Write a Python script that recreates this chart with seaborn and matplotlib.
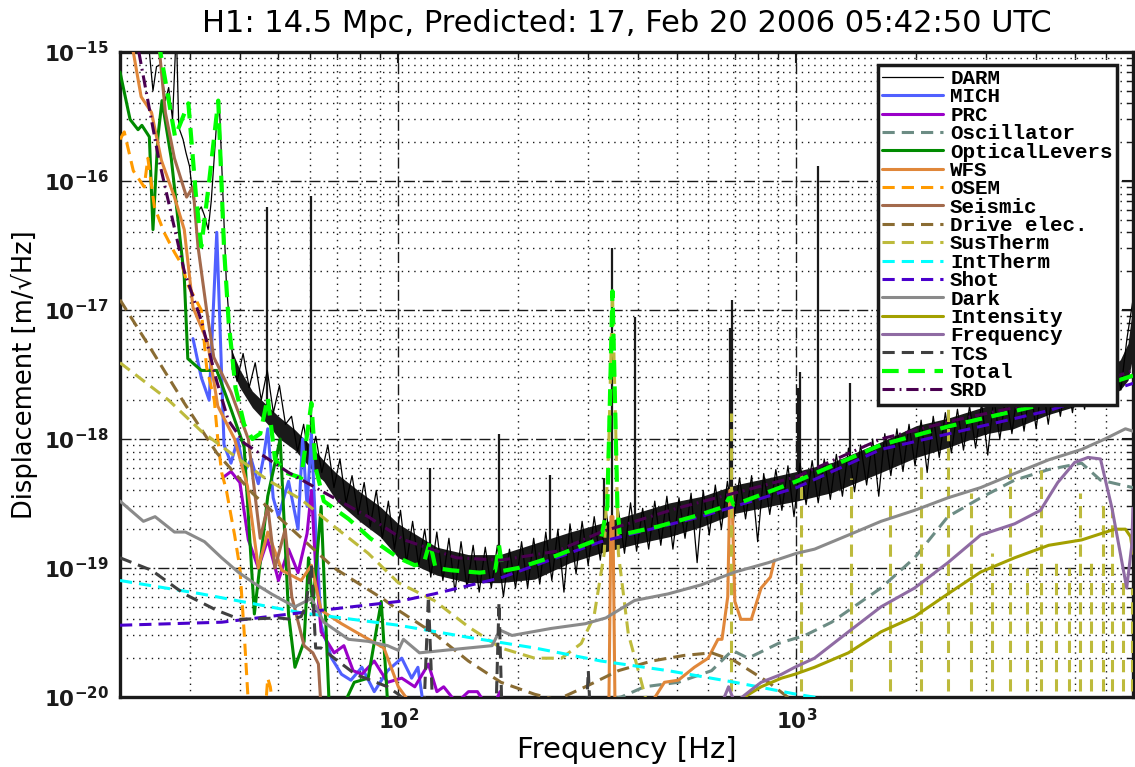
import numpy as np
import pandas as pd
import matplotlib
matplotlib.use("Agg")
import matplotlib.pyplot as plt
import seaborn as sns
from matplotlib.ticker import FixedLocator, FuncFormatter, NullFormatter

# ---------------- data ----------------
TITLE = "H1: 14.5 Mpc, Predicted: 17, Feb 20 2006 05:42:50 UTC"

# DARM: low-frequency part of the trace
darm_f = [20, 22, 23.7, 24.2, 24.7, 25.3, 26.0, 26.5, 27.1, 27.7, 28.1, 28.8, 29.3, 29.9,
          30.5, 31.1, 32.0, 32.6, 33.3, 33.9, 34.9, 35.5, 36.3, 37.0]
darm_v = [3e-15, 2e-15, 1e-15, 5e-16, 7.7e-16, 8e-16, 4.2e-16, 5.3e-16, 3e-16, 1.5e-15, 2.6e-16,
          2.1e-16, 1.65e-16, 1.3e-16, 7.5e-17, 5.6e-17, 6.3e-17, 5.4e-17, 4.2e-17, 7e-17, 2.6e-16,
          4.2e-16, 7.1e-17, 1.6e-17]
# DARM: noisy part, 38 Hz .. 7 kHz on an even log grid (values read as band extremes)
darm_noise_v = [
    5.5e-18, 2.8e-18, 4.6e-18, 2.5e-18, 3.9e-18, 2.0e-18, 3.4e-18, 1.6e-18, 2.6e-18, 1.3e-18,
    1.5e-18, 8e-19, 1.3e-18, 6.5e-19, 1.05e-18, 5.5e-19, 9e-19, 4.2e-19, 7e-19, 3.2e-19,
    5.2e-19, 2.6e-19, 4.6e-19, 2.1e-19, 4e-19, 1.7e-19, 3.3e-19, 1.4e-19, 2.8e-19, 1.1e-19,
    2.3e-19, 1.05e-19, 2e-19, 8.5e-20, 1.9e-19, 8e-20, 1.7e-19, 6.5e-20, 1.6e-19, 7e-20,
    1.5e-19, 6.5e-20, 1.45e-19, 7e-20, 1.5e-19, 6e-20, 1.4e-19, 7e-20, 1.6e-19, 7e-20,
    1.7e-19, 7.5e-20, 1.9e-19, 8e-20, 2e-19, 6.5e-20, 2.2e-19, 9e-20, 2.3e-19, 1.05e-19,
    2.5e-19, 1.15e-19, 2.7e-19, 1.2e-19, 2.8e-19, 1.3e-19, 3.2e-19, 1.35e-19, 2.9e-19, 1.4e-19,
    3.3e-19, 1.5e-19, 3.6e-19, 1.4e-19, 3.5e-19, 1.7e-19, 3.8e-19, 1.1e-19, 4e-19, 1.8e-19,
    4.4e-19, 2e-19, 4.7e-19, 2.3e-19, 5e-19, 2.4e-19, 5.2e-19, 1.6e-19, 5.4e-19, 2.6e-19,
    5.8e-19, 2.8e-19, 6.2e-19, 2.5e-19, 6.5e-19, 3.1e-19, 6.8e-19, 3.2e-19, 7e-19, 3.4e-19,
    7.6e-19, 3.6e-19, 8.5e-19, 3.9e-19, 9e-19, 4.4e-19, 1e-18, 3.6e-19, 1.1e-18, 5.2e-19,
    1.2e-18, 5.6e-19, 1.3e-18, 6.2e-19, 1.4e-18, 5.5e-19, 1.5e-18, 7.2e-19, 1.6e-18, 7.8e-19,
    1.7e-18, 8.2e-19, 1.8e-18, 8.5e-19, 1.9e-18, 7.5e-19, 2.1e-18, 1e-18, 2.2e-18, 1.1e-18,
    2.5e-18, 1.15e-18, 2.6e-18, 1.2e-18, 2.8e-18, 1.3e-18, 2.9e-18, 1.5e-18, 3.1e-18, 1.6e-18,
    3.3e-18, 1.7e-18, 3.5e-18, 1.8e-18, 3.7e-18, 2e-18, 4.2e-18, 2.4e-18, 6e-18, 1.2e-17]
darm_noise_f = np.geomspace(38, 7000, len(darm_noise_v))
# DARM: dense body of the noise band
band_f = [38, 40, 43, 47, 50, 55, 60, 65, 70, 80, 90, 100, 125, 150, 180, 220, 270, 320, 400,
          480, 580, 700, 850, 1000, 1230, 1630, 2000, 2400, 3000, 3500, 4300, 5200, 6000, 6500,
          6800, 7000]
band_lo = [3.5e-18, 2.5e-18, 1.75e-18, 1.3e-18, 1.02e-18, 8.2e-19, 6e-19, 4.7e-19, 3.3e-19,
           2.3e-19, 1.75e-19, 1.2e-19, 8.8e-20, 7.7e-20, 7.7e-20, 8.2e-20, 1.1e-19, 1.3e-19,
           1.55e-19, 1.75e-19, 2.1e-19, 2.65e-19, 3e-19, 3.3e-19, 3.85e-19, 5.5e-19, 7.2e-19,
           8.6e-19, 1.1e-18, 1.2e-18, 1.55e-18, 1.85e-18, 2.1e-18, 2.4e-18, 2.85e-18, 4.4e-18]
band_hi = [5e-18, 3.45e-18, 2.35e-18, 1.8e-18, 1.5e-18, 1.18e-18, 9e-19, 6.8e-19, 5.4e-19,
           3.9e-19, 3e-19, 2.2e-19, 1.45e-19, 1.27e-19, 1.27e-19, 1.55e-19, 1.9e-19, 2.2e-19,
           2.7e-19, 3.2e-19, 3.6e-19, 4.4e-19, 5e-19, 5.6e-19, 6.6e-19, 9.5e-19, 1.27e-18,
           1.45e-18, 1.8e-18, 2.2e-18, 2.65e-18, 3.1e-18, 3.45e-18, 4.1e-18, 5.5e-18, 1.1e-17]
# DARM: narrow lines
line_f = [46.7, 60.5, 120, 179, 240, 329, 345, 392, 680, 687, 1010, 1020, 1130, 1360]
line_top = [6.3e-17, 7.6e-17, 6e-19, 1.1e-18, 5.3e-19, 5e-19, 3e-17, 8.9e-18, 7.3e-18, 1.2e-17,
            2.5e-18, 3.3e-18, 1.3e-16, 2.7e-18]
line_base = [1.6e-18, 7.5e-19, 1.2e-19, 1e-19, 1.1e-19, 1.7e-19, 1.8e-19, 2e-19, 3.5e-19,
             3.5e-19, 4.5e-19, 4.5e-19, 5e-19, 5.5e-19]

mich_f = [30.5, 32, 33.5, 35, 36.5, 38, 39.5, 41, 42.7, 44.5, 45.8, 47, 48.5, 50, 53, 56, 57.5,
          59, 60.5, 62, 64, 68, 72, 76, 81, 87, 94, 102, 108, 112, 116]
mich_v = [6e-18, 3e-18, 2e-18, 4e-17, 9e-19, 6.5e-19, 1e-18, 5.5e-19, 7e-19, 4.5e-19, 7e-19,
          1.2e-18, 3.5e-19, 2.5e-19, 4.7e-19, 2e-19, 1e-18, 3e-19, 1.1e-18, 2e-19, 3.6e-20, 2e-20,
          1.5e-20, 1.35e-20, 1.7e-20, 1.1e-20, 1.6e-20, 2e-20, 1.4e-20, 1.7e-20, 8e-21]

prc_f = [36.5, 38, 40, 42, 44.5, 47, 50, 53, 56, 59, 60.5, 62, 64, 69, 73, 77, 81, 87, 94, 102,
         110, 119, 125, 130, 140, 150, 158, 165, 172, 180, 186]
prc_v = [5.1e-19, 5.6e-19, 4.6e-19, 1.66e-19, 1e-19, 1.66e-19, 8e-20, 1.4e-19, 9.2e-20, 1.85e-19,
         4e-19, 1e-19, 3.2e-20, 2.2e-20, 2.5e-20, 1.6e-20, 1.5e-20, 1.9e-20, 1.3e-20, 1.4e-20,
         1.2e-20, 1.8e-20, 1.1e-20, 1.2e-20, 9e-21, 1.1e-20, 1.1e-20, 9e-21, 8e-21, 1.1e-20, 8e-21]

osc_f = [250, 300, 363, 415, 505, 612, 690, 756, 900, 1050, 1225, 1630, 1980, 2400, 2900, 3530,
         4300, 5200, 5800, 7000]
osc_v = [8e-21, 9e-21, 1e-20, 1.2e-20, 1.3e-20, 1.6e-20, 2.3e-20, 2e-20, 2.6e-20, 3e-20, 3.8e-20,
         7e-20, 1.2e-19, 2.5e-19, 3.5e-19, 4.8e-19, 5.8e-19, 6.5e-19, 4.8e-19, 4.2e-19]

ol_f = [20, 21.2, 22.2, 22.7, 23.7, 24.2, 24.9, 25.5, 26.9, 29, 29.6, 32, 35, 38, 41, 43.5, 47,
        50.5, 53, 55, 58, 59.5, 61, 64, 67, 72, 77.5, 84, 90.6, 94]
ol_v = [7e-16, 3e-16, 2.5e-16, 2.7e-16, 2.2e-16, 4.2e-17, 2.2e-16, 4.2e-16, 1.5e-16, 1.8e-17,
        4.2e-18, 3.4e-18, 3.4e-18, 1.7e-18, 8.7e-19, 4.4e-20, 3.6e-19, 1e-18, 4.4e-20, 1.7e-20,
        2.7e-20, 1.2e-19, 5e-20, 3e-19, 9e-21, 8e-21, 1.3e-20, 1.4e-20, 5.5e-20, 9e-21]

wfs_f = [20.5, 21.6, 22.6, 24, 25.4, 27.4, 29, 30.5, 33.2, 35.2, 38.8, 41.8, 44.5, 47, 51, 57,
         60.5, 64, 72, 81, 92, 100, 110, 200, 330, 338, 342, 346, 350, 360, 432, 466, 505, 554,
         600, 635, 650, 672, 680, 688, 700, 725, 770, 815, 860, 880]
wfs_v = [2e-15, 1e-15, 4.5e-16, 3.4e-16, 1.45e-16, 7.5e-17, 4.2e-17, 1.05e-17, 5.6e-18, 1.8e-18,
         1e-18, 4.3e-19, 1e-19, 1.9e-19, 9.6e-20, 8e-20, 1.05e-19, 4.7e-20, 3.7e-20, 3e-20,
         2.4e-20, 1.2e-20, 8e-21, 5e-21, 5e-21, 9e-21, 2.5e-19, 2.5e-19, 9e-21, 5e-21, 9e-21,
         1.3e-20, 1.35e-20, 1.7e-20, 2e-20, 2.8e-20, 2.8e-20, 6e-20, 4e-19, 4e-19, 5.5e-20,
         4e-20, 4e-20, 7e-20, 8.5e-20, 1.15e-19]

osem_f = [20, 20.5, 21.6, 23, 23.5, 24.4, 25.8, 27.4, 28.7, 29.5, 32, 33, 34.5, 35.2, 36, 37,
          38.8, 40, 41, 42, 44, 46.5, 47, 47.7, 48.5]
osem_v = [2.1e-16, 2.4e-16, 1.2e-16, 9e-17, 1.5e-16, 6.3e-17, 4e-17, 2.8e-17, 2.2e-17, 1.6e-17,
          1e-17, 3.6e-18, 2e-18, 1e-18, 5.5e-19, 4e-19, 1.8e-19, 1e-19, 3.2e-20, 9e-21, 5e-21,
          9e-21, 1.4e-20, 1.2e-20, 8e-21]

seis_f = [25, 26, 27.4, 29.4, 30.5, 31.4, 33, 34.4, 38, 42, 43.4, 45, 47, 49, 52, 54, 58, 61,
          63, 64]
seis_v = [1.2e-15, 3.4e-16, 1.5e-16, 7.5e-17, 9e-17, 3.1e-17, 1e-17, 4.3e-18, 2.3e-18, 1e-18,
          4.3e-19, 1.7e-19, 3e-19, 1e-19, 2e-19, 6e-20, 2.5e-20, 2.2e-20, 1.8e-20, 8e-21]

drive_f = [20, 24, 29, 35, 43, 54, 69, 92, 100, 123, 150, 181, 220, 250, 295, 357, 433, 522,
           612, 700, 850, 950, 1050]
drive_v = [1.2e-17, 4.9e-18, 1.9e-18, 7.8e-19, 3.8e-19, 2e-19, 1e-19, 5.7e-20, 4.7e-20, 3.1e-20,
           1.9e-20, 1.3e-20, 1.05e-20, 9.5e-21, 1.2e-20, 1.6e-20, 1.9e-20, 2.1e-20, 2.2e-20,
           1.9e-20, 1.3e-20, 1e-20, 8e-21]

sus_f = [20, 26.5, 32, 39, 47, 57, 69, 84, 100, 123, 150, 181, 220, 257, 288, 310, 329, 338,
         345, 352, 357, 378, 408, 425]
sus_v = [3.9e-18, 2e-18, 1.15e-18, 7.3e-19, 4.8e-19, 3.4e-19, 2.1e-19, 1.3e-19, 7.7e-20, 5.6e-20,
         3.5e-20, 2.4e-20, 2e-20, 2e-20, 2.6e-20, 4.2e-20, 1.3e-19, 1e-18, 1.4e-17, 1e-18,
         1.3e-19, 3.1e-20, 1.3e-20, 8e-21]
violin_f = [684, 1025, 1370, 1720, 2050, 2400, 2750, 3090, 3430, 3790, 4120, 4480, 4840, 5150,
            5500, 5890, 6200, 6600, 6960]
violin_top = [1.6e-18, 5.4e-19, 5e-19, 3.4e-19, 6.6e-19, 2e-18, 3.8e-19, 1.3e-19, 6e-19, 1e-19,
              5.8e-19, 1.1e-19, 1e-19, 3.8e-19, 1.2e-19, 3.2e-19, 2.9e-19, 8e-20, 7e-20]

int_f = [20, 32, 57, 100, 150, 220, 323, 476, 700, 1000, 1225]
int_v = [8e-20, 6.3e-20, 4.5e-20, 3.6e-20, 2.9e-20, 2.4e-20, 1.9e-20, 1.6e-20, 1.3e-20,
         1.05e-20, 9.5e-21]

shot_f = [20, 36, 64, 100, 123, 181, 323, 575, 1000, 1630, 4300, 7000]
shot_v = [3.6e-20, 3.8e-20, 4.7e-20, 5.5e-20, 6.3e-20, 8.4e-20, 1.6e-19, 2.5e-19, 4.2e-19,
          8.3e-19, 1.66e-18, 2.7e-18]

dark_f = [20, 22.9, 24.5, 27.4, 29.2, 32.6, 36, 39.6, 43.5, 48, 55, 60.5, 65, 75, 84, 94, 100,
          103, 113, 150, 172, 180, 193, 242, 295, 332, 392, 476, 576, 700, 850, 1000, 1110, 1350,
          1630, 1980, 2400, 2900, 3530, 4300, 5200, 5950, 6700, 7000]
dark_v = [3.3e-19, 2.3e-19, 2.5e-19, 1.9e-19, 1.9e-19, 1.6e-19, 1.2e-19, 9.3e-20, 7.6e-20,
          6.3e-20, 5e-20, 5.8e-20, 3.8e-20, 2.8e-20, 2.7e-20, 2.5e-20, 2.3e-20, 2.8e-20, 2.2e-20,
          2.4e-20, 2.5e-20, 3.3e-20, 3e-20, 3.4e-20, 3.7e-20, 4.1e-20, 5.6e-20, 6.3e-20, 7.4e-20,
          9.3e-20, 1.1e-19, 1.3e-19, 1.4e-19, 1.8e-19, 2.3e-19, 2.8e-19, 3.5e-19, 4.2e-19,
          5.4e-19, 6.9e-19, 8.3e-19, 1e-18, 1.2e-18, 1.15e-18]

inten_f = [700, 815, 917, 990, 1110, 1350, 1630, 1980, 2400, 2900, 3530, 4300, 5200, 6300,
           6700, 6900, 7000]
inten_v = [9e-21, 1.2e-20, 1.4e-20, 1.5e-20, 1.7e-20, 2.2e-20, 3.2e-20, 4.2e-20, 6.3e-20,
           9.3e-20, 1.2e-19, 1.5e-19, 1.65e-19, 2e-19, 2e-19, 1.75e-19, 1.3e-19]

freq_f = [640, 675, 700, 760, 815, 917, 990, 1110, 1350, 1630, 1980, 2400, 2900, 3530, 4100,
          4530, 5000, 5400, 5800, 6200, 6750, 6950, 7000]
freq_v = [8e-21, 1.2e-20, 9e-21, 1.1e-20, 1.3e-20, 1.5e-20, 1.7e-20, 2e-20, 3.2e-20, 5e-20,
          7e-20, 1.1e-19, 1.8e-19, 2.2e-19, 2.8e-19, 4.6e-19, 6.6e-19, 7.2e-19, 7e-19, 2.9e-19,
          7e-20, 1.5e-19, 2.9e-19]

tcs_f = [20, 24, 29, 35, 40, 50, 54, 57, 58.5, 60.5, 62, 64, 69, 78, 94, 100, 110, 116, 119,
         122, 126, 140, 170, 176, 179, 182, 188, 200, 290, 297, 300, 303, 310]
tcs_v = [1.2e-19, 9.6e-20, 6.3e-20, 4.7e-20, 4e-20, 4.1e-20, 4e-20, 4.2e-20, 5e-20, 1.05e-19,
         2.4e-20, 2.4e-20, 2e-20, 1.5e-20, 1.2e-20, 1.05e-20, 8e-21, 8e-21, 6e-20, 8e-21, 5e-21,
         5e-21, 5e-21, 8e-21, 5.4e-20, 8e-21, 5e-21, 5e-21, 5e-21, 8e-21, 1.6e-20, 8e-21, 5e-21]

total_f = [20, 23, 25, 27.5, 29.7, 31, 32, 33.5, 35.3, 36.5, 37.5, 39, 41, 43, 45, 47, 49, 52,
           57, 60.5, 62, 65, 75, 85, 100, 110, 116, 120, 124, 136, 160, 175, 179, 183, 200, 250,
           323, 335, 341, 345, 349, 355, 360, 450, 575, 660, 680, 695, 720, 1000, 1630, 2400,
           4300, 7000]
total_v = [3e-15, 2e-15, 1.2e-15, 2.2e-16, 4e-16, 8e-17, 3.1e-17, 1e-16, 4.2e-16, 3e-17, 8e-18,
           2.5e-18, 1.3e-18, 1e-18, 1.1e-18, 2.1e-18, 7e-19, 5.5e-19, 5e-19, 1.9e-18, 6e-19,
           3.3e-19, 2.4e-19, 1.7e-19, 1.2e-19, 1.05e-19, 1.1e-19, 1.6e-19, 1e-19, 9.6e-20,
           9.2e-20, 9.5e-20, 1.5e-19, 9.5e-20, 1e-19, 1.25e-19, 1.7e-19, 3e-19, 3e-18, 1.4e-17,
           3e-18, 3e-19, 1.8e-19, 2.1e-19, 2.6e-19, 3e-19, 3.6e-19, 3.1e-19, 3.2e-19, 4.7e-19,
           9e-19, 1.25e-18, 1.9e-18, 3.1e-18]

srd_f = [22.3, 25, 29, 32, 35, 37.4, 41, 53, 70, 84, 103, 140, 181, 250, 323, 500, 1000, 1630,
         2500, 4300, 7000]
srd_v = [1e-15, 1.5e-16, 2e-17, 8.3e-18, 2.8e-18, 1.4e-18, 9.3e-19, 5.5e-19, 3.4e-19, 2.5e-19,
         1.66e-19, 1.2e-19, 1.15e-19, 1.35e-19, 1.9e-19, 2.9e-19, 5.1e-19, 1e-18, 1.4e-18, 2e-18,
         3.4e-18]

# ---------------- styles ----------------
DASH = (0, (4, 2.3))
darm_all_f = list(darm_f) + list(darm_noise_f)
darm_all_v = list(darm_v) + list(darm_noise_v)
STYLES = [
    ("DARM", darm_all_f, darm_all_v, "#000000", "-", 0.9),
    ("MICH", mich_f, mich_v, "#5060FF", "-", 2.2),
    ("PRC", prc_f, prc_v, "#9A00C8", "-", 2.2),
    ("Oscillator", osc_f, osc_v, "#6C8C84", DASH, 2.2),
    ("OpticalLevers", ol_f, ol_v, "#008A00", "-", 2.2),
    ("WFS", wfs_f, wfs_v, "#E0873A", "-", 2.2),
    ("OSEM", osem_f, osem_v, "#FF9A00", DASH, 2.2),
    ("Seismic", seis_f, seis_v, "#A36A4C", "-", 2.2),
    ("Drive elec.", drive_f, drive_v, "#8A6C33", DASH, 2.2),
    ("SusTherm", sus_f, sus_v, "#BDBA3C", DASH, 2.2),
    ("IntTherm", int_f, int_v, "#00FFFF", DASH, 2.2),
    ("Shot", shot_f, shot_v, "#4A00CC", DASH, 2.2),
    ("Dark", dark_f, dark_v, "#8A8A8A", "-", 2.2),
    ("Intensity", inten_f, inten_v, "#A3A000", "-", 2.2),
    ("Frequency", freq_f, freq_v, "#8F6BA3", "-", 2.2),
    ("TCS", tcs_f, tcs_v, "#404040", DASH, 2.2),
    ("Total", total_f, total_v, "#00FF00", DASH, 3.0),
    ("SRD", srd_f, srd_v, "#4A0050", (0, (4, 1.6, 0.6, 1.6)), 2.2),
]

sns.set_theme(style="white")
plt.rcParams["font.family"] = ["DejaVu Sans"]
plt.rcParams["mathtext.fontset"] = "custom"
plt.rcParams["mathtext.bf"] = "DejaVu Sans:bold"
plt.rcParams["mathtext.rm"] = "DejaVu Sans"
plt.rcParams["text.color"] = "black"
plt.rcParams["axes.labelcolor"] = "black"
plt.rcParams["xtick.color"] = "black"
plt.rcParams["ytick.color"] = "black"

fig = plt.figure(figsize=(11.35, 7.67), dpi=100)
ax = fig.add_axes([120 / 1135, 1 - 697 / 767, 1013 / 1135, 645 / 767])
ax.set_xscale("log")
ax.set_yscale("log")
ax.set_xlim(20, 7000)
ax.set_ylim(1e-20, 1e-15)

# grid (MATLAB style)
ax.xaxis.set_major_locator(FixedLocator([100, 1000]))
ax.xaxis.set_minor_locator(FixedLocator([20, 30, 40, 50, 60, 70, 80, 90, 200, 300, 400, 500,
                                         600, 700, 800, 900, 2000, 3000, 4000, 5000, 6000, 7000]))
ax.yaxis.set_major_locator(FixedLocator([1e-20, 1e-19, 1e-18, 1e-17, 1e-16, 1e-15]))
ax.yaxis.set_minor_locator(FixedLocator([m * 10.0 ** e for e in range(-20, -15) for m in range(2, 10)]))
ax.grid(which="major", color="k", linestyle=(0, (8, 2.2, 1.2, 2.2)), lw=1.0)
ax.grid(which="minor", color="k", linestyle=(0, (1.0, 3.5)), lw=1.0)
ax.set_axisbelow(True)

fmt = FuncFormatter(lambda v, p: r"$\mathbf{10^{%d}}$" % int(round(np.log10(v))))
ax.xaxis.set_major_formatter(fmt)
ax.yaxis.set_major_formatter(fmt)
ax.xaxis.set_minor_formatter(NullFormatter())
ax.yaxis.set_minor_formatter(NullFormatter())
ax.tick_params(which="both", direction="in", top=True, right=True, colors="k",
               labelcolor="k", labelsize=15.5)
ax.tick_params(which="major", length=8, width=1.5, pad=8)
ax.tick_params(which="minor", length=4, width=1.0)
for s in ax.spines.values():
    s.set_linewidth(2.4)
    s.set_color("k")

# DARM dense body + narrow lines
ax.fill_between(band_f, band_lo, band_hi, color="k", lw=0, zorder=2)
ax.vlines(line_f, line_base, line_top, color="k", lw=1.6, zorder=2)

for name, f, v, col, ls, lw in STYLES:
    sns.lineplot(x=f, y=v, ax=ax, color=col, linestyle=ls, lw=lw, label=name,
                 sort=False, estimator=None, legend=False, zorder=3 if name != "DARM" else 2)
    if name == "SusTherm":
        ax.vlines(violin_f, 1e-21, violin_top, color=col, linestyle=ls, lw=lw, zorder=3)

handles, labels = ax.get_legend_handles_labels()
leg = ax.legend(handles, labels, loc="upper right", bbox_to_anchor=(0.984, 0.980),
                borderaxespad=0, frameon=True, fancybox=False, framealpha=1,
                edgecolor="k", facecolor="white", handlelength=2.9, handletextpad=0.35,
                labelspacing=-0.03, borderpad=0.2, labelcolor="black",
                prop={"family": "Liberation Mono", "weight": "bold", "size": 15})
leg.get_frame().set_linewidth(2.5)
leg.set_zorder(10)

ax.set_xlabel("Frequency [Hz]", fontsize=21, labelpad=2, color="black")
ax.set_ylabel("Displacement [m/\u221aHz]", fontsize=18.5, color="black")
ax.yaxis.set_label_coords((38 - 120) / 1013, 0.5)
fig.text((120 + 1133) / 2 / 1135, 1 - 32 / 767, TITLE, ha="center", va="baseline",
         fontsize=22, color="black")

fig.savefig("out.png", dpi=100)
